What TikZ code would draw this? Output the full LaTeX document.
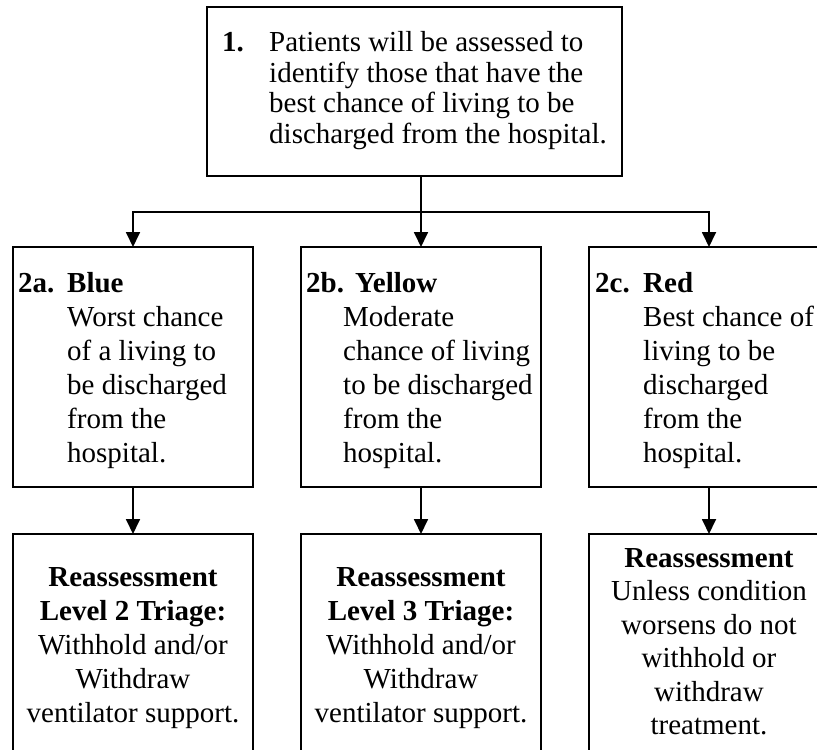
\documentclass[tikz,border=0pt]{standalone}
\usepackage{fontspec}
\setmainfont{Liberation Serif}
\usetikzlibrary{arrows.meta}
\begin{document}
\begin{tikzpicture}[x=1pt,y=-1pt,
  box/.style={draw,line width=1.8pt,inner sep=0pt,outer sep=0pt,rectangle},
  arr/.style={line width=1.8pt,-{Triangle[width=14pt,length=15pt]}},
  txt/.style={anchor=base west,inner sep=0pt,font=\fontsize{29}{31}\selectfont},
  ctxt/.style={anchor=base,inner sep=0pt,font=\fontsize{29}{31}\selectfont}]
\useasboundingbox (0,0) rectangle (817,750);
\fill[white] (0,0) rectangle (817,750);
\clip (0,0) rectangle (817,750);
% boxes
\node[box,minimum width=415pt,minimum height=169pt] (top) at (414.5,91.5) {};
\node[box,minimum width=240pt,minimum height=240pt] (a2) at (133,367) {};
\node[box,minimum width=240pt,minimum height=240pt] (b2) at (421,367) {};
\node[box,minimum width=240pt,minimum height=240pt] (c2) at (709,367) {};
\node[box,minimum width=240pt,minimum height=223pt] (a3) at (133,645.5) {};
\node[box,minimum width=240pt,minimum height=223pt] (b3) at (421,645.5) {};
\node[box,minimum width=240pt,minimum height=223pt] (c3) at (709,645.5) {};
% connectors
\coordinate (split) at (421,212);
\draw[arr] (top.south -| b2.north) -- (b2.north);
\draw[arr] (split) -| (a2.north);
\draw[arr] (split) -| (c2.north);
\draw[arr] (a2.south) -- (a3.north);
\draw[arr] (b2.south) -- (b3.north);
\draw[arr] (c2.south) -- (c3.north);
% top text
\node[txt,font=\fontsize{29}{31}\selectfont\bfseries] (t0) at (222,51.5) {1.};
\foreach \t [count=\i from 0] in {Patients will be assessed to,identify those that have the,best chance of living to be,discharged from the hospital.}
  \node[txt] (t\i) at (269,51.5+30.7*\i) {\t};
% row 2
\node[txt,font=\fontsize{29}{31}\selectfont\bfseries] (al) at (18,292) {2a.};
\node[txt,font=\fontsize{29}{31}\selectfont\bfseries] (ah) at (67,292) {Blue};
\foreach \t [count=\i from 1] in {Worst chance,of a living to,be discharged,from the,hospital.}
  \node[txt] (a\i) at (67,292+34*\i) {\t};
\node[txt,font=\fontsize{29}{31}\selectfont\bfseries] (bl) at (306,292) {2b.};
\node[txt,font=\fontsize{29}{31}\selectfont\bfseries] (bh) at (355,292) {Yellow};
\foreach \t [count=\i from 1] in {Moderate,chance of living,to be discharged,from the,hospital.}
  \node[txt] (b\i) at (343,292+34*\i) {\t};
\node[txt,font=\fontsize{29}{31}\selectfont\bfseries] (cl) at (595,292) {2c.};
\node[txt,font=\fontsize{29}{31}\selectfont\bfseries] (ch) at (643,292) {Red};
\foreach \t [count=\i from 1] in {Best chance of,living to be,discharged,from the,hospital.}
  \node[txt] (c\i) at (643,292+34*\i) {\t};
% row 3
\node[ctxt,font=\fontsize{29}{31}\selectfont\bfseries] (ra1) at (133,586) {Reassessment};
\node[ctxt,font=\fontsize{29}{31}\selectfont\bfseries] (ra2) at (133,620) {Level 2 Triage:};
\node[ctxt] (ra3) at (133,654) {Withhold and/or};
\node[ctxt] (ra4) at (133,688) {Withdraw};
\node[ctxt] (ra5) at (133,722) {ventilator support.};
\node[ctxt,font=\fontsize{29}{31}\selectfont\bfseries] (rb1) at (421,586) {Reassessment};
\node[ctxt,font=\fontsize{29}{31}\selectfont\bfseries] (rb2) at (421,620) {Level 3 Triage:};
\node[ctxt] (rb3) at (421,654) {Withhold and/or};
\node[ctxt] (rb4) at (421,688) {Withdraw};
\node[ctxt] (rb5) at (421,722) {ventilator support.};
\node[ctxt,font=\fontsize{29}{31}\selectfont\bfseries] (rc1) at (709,567) {Reassessment};
\foreach \t [count=\i from 1] in {Unless condition,worsens do not,withhold or,withdraw,treatment.}
  \node[ctxt] (rc\i) at (709,567+33.5*\i) {\t};
\end{tikzpicture}
\end{document}
